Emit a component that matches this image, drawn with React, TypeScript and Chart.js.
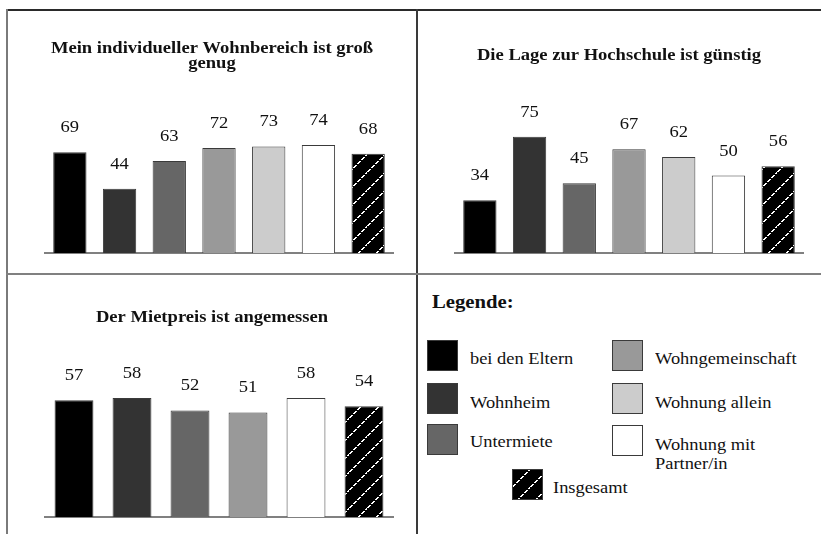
import React, { useEffect, useRef } from "react";
import { Chart, registerables } from "chart.js";

Chart.register(...registerables);

// ---------- data ----------
const categories = [
  "bei den Eltern",
  "Wohnheim",
  "Untermiete",
  "Wohngemeinschaft",
  "Wohnung allein",
  "Wohnung mit Partner/in",
  "Insgesamt",
];
const wohnbereichValues = [69, 44, 63, 72, 73, 74, 68];
const lageValues = [34, 75, 45, 67, 62, 50, 56];
const mietpreisCategories = [
  "bei den Eltern",
  "Wohnheim",
  "Untermiete",
  "Wohngemeinschaft",
  "Wohnung mit Partner/in",
  "Insgesamt",
];
const mietpreisValues = [57, 58, 52, 51, 58, 54];

const titleWohnbereich = ["Mein individueller Wohnbereich ist groß", "genug"];
const titleLage = ["Die Lage zur Hochschule ist günstig"];
const titleMietpreis = ["Der Mietpreis ist angemessen"];

const categoryColors: Record<string, string> = {
  "bei den Eltern": "#000000",
  Wohnheim: "#333333",
  Untermiete: "#666666",
  Wohngemeinschaft: "#999999",
  "Wohnung allein": "#cccccc",
  "Wohnung mit Partner/in": "#ffffff",
};

const FONT = "'Liberation Serif', 'Times New Roman', serif";
const SX = 1.16;

function makePatternCanvas(): HTMLCanvasElement {
  const c = document.createElement("canvas");
  c.width = 18;
  c.height = 18;
  const ctx = c.getContext("2d")!;
  ctx.fillStyle = "#000";
  ctx.fillRect(0, 0, 18, 18);
  ctx.fillStyle = "#fff";
  for (let i = 0; i < 18; i++) {
    if (i % 4 !== 3) ctx.fillRect(i, 17 - i, 2, 1);
  }
  return c;
}

const panelText = {
  id: "panelText",
  afterDraw(chart: any, _args: any, opts: any) {
    const ctx: CanvasRenderingContext2D = chart.ctx;
    ctx.save();
    ctx.fillStyle = "#111";
    ctx.textAlign = "center";
    ctx.textBaseline = "alphabetic";
    ctx.font = `bold 16px ${FONT}`;
    (opts.lines as string[]).forEach((line, i) => {
      ctx.save();
      ctx.translate(chart.width / 2, opts.baselines[i]);
      ctx.scale(SX, 1);
      ctx.fillText(line, 0, 0);
      ctx.restore();
    });
    ctx.font = `16px ${FONT}`;
    const meta = chart.getDatasetMeta(0);
    meta.data.forEach((el: any, i: number) => {
      const v = chart.data.datasets[0].data[i];
      ctx.save();
      ctx.translate(el.x, el.y - 20);
      ctx.scale(SX, 1);
      ctx.fillText(String(v), 0, 0);
      ctx.restore();
    });
    ctx.restore();
  },
};

type PanelProps = {
  labels: string[];
  values: number[];
  title: string[];
  titleBaselines: number[];
  left: number;
  top: number;
  width: number;
  height: number;
  padding: { top: number; bottom: number; left: number; right: number };
};

function BarPanel(p: PanelProps) {
  const ref = useRef<HTMLCanvasElement | null>(null);
  useEffect(() => {
    if (!ref.current) return;
    const ctx = ref.current.getContext("2d")!;
    const pattern = ctx.createPattern(makePatternCanvas(), "repeat")!;
    const colors = p.labels.map((l) => (l === "Insgesamt" ? pattern : categoryColors[l]));
    const chart = new Chart(ref.current, {
      type: "bar",
      data: {
        labels: p.labels,
        datasets: [
          {
            data: p.values,
            backgroundColor: colors as any,
            borderColor: "#3a3a3a",
            borderWidth: 1,
            barPercentage: 0.67,
            categoryPercentage: 1,
          },
        ],
      },
      options: {
        animation: false,
        responsive: false,
        maintainAspectRatio: false,
        layout: { padding: p.padding },
        plugins: {
          legend: { display: false },
          tooltip: { enabled: false },
          title: { display: false },
          panelText: { lines: p.title, baselines: p.titleBaselines },
        } as any,
        scales: {
          x: {
            display: true,
            grid: { display: false, drawTicks: false },
            ticks: { display: false },
            border: { display: true, color: "#808080", width: 2 },
          },
          y: { display: false, min: 0, max: 100 },
        },
      },
      plugins: [panelText as any],
    });
    return () => chart.destroy();
  }, []);
  return (
    <canvas
      ref={ref}
      width={p.width}
      height={p.height}
      style={{ position: "absolute", left: p.left, top: p.top, width: p.width, height: p.height }}
    />
  );
}

function Swatch({ label, left, top }: { label: string; left: number; top: number }) {
  const ref = useRef<HTMLCanvasElement | null>(null);
  useEffect(() => {
    if (!ref.current) return;
    const ctx = ref.current.getContext("2d")!;
    ctx.clearRect(0, 0, 31, 31);
    if (label === "Insgesamt") {
      ctx.fillStyle = ctx.createPattern(makePatternCanvas(), "repeat")!;
    } else {
      ctx.fillStyle = categoryColors[label];
    }
    ctx.fillRect(0, 0, 31, 31);
    ctx.strokeStyle = "#3a3a3a";
    ctx.lineWidth = 1;
    ctx.strokeRect(0.5, 0.5, 30, 30);
  }, []);
  return (
    <canvas
      ref={ref}
      width={31}
      height={31}
      style={{ position: "absolute", left, top, width: 31, height: 31 }}
    />
  );
}

function LegendText({ lines, left, baseline }: { lines: string[]; left: number; baseline: number }) {
  return (
    <div
      style={{
        position: "absolute",
        left,
        top: baseline - 13.4,
        font: `16px ${FONT}`,
        lineHeight: "19.5px",
        color: "#111",
        whiteSpace: "nowrap",
        transform: `scaleX(${1.15})`,
        transformOrigin: "left top",
      }}
    >
      {lines.map((l, i) => (
        <div key={i}>{l}</div>
      ))}
    </div>
  );
}

export default function App() {
  useEffect(() => {
    document.body.style.margin = "0";
    document.body.style.overflow = "hidden";
  }, []);
  return (
    <div style={{ position: "absolute", left: 0, top: 0, width: 821, height: 534, background: "#fff", overflow: "hidden" }}>
      <BarPanel
        labels={categories}
        values={wohnbereichValues}
        title={titleWohnbereich}
        titleBaselines={[43, 58]}
        left={7}
        top={10}
        width={410}
        height={264}
        padding={{ top: 97, bottom: 21, left: 38, right: 24 }}
      />
      <BarPanel
        labels={categories}
        values={lageValues}
        title={titleLage}
        titleBaselines={[50]}
        left={417}
        top={10}
        width={404}
        height={264}
        padding={{ top: 88, bottom: 21, left: 38, right: 18 }}
      />
      <BarPanel
        labels={mietpreisCategories}
        values={mietpreisValues}
        title={titleMietpreis}
        titleBaselines={[48]}
        left={7}
        top={274}
        width={410}
        height={260}
        padding={{ top: 38, bottom: 17, left: 38, right: 24 }}
      />

      {/* frame lines */}
      <div style={{ position: "absolute", left: 6, top: 9, width: 815, height: 2, background: "#2a2a2a" }} />
      <div style={{ position: "absolute", left: 6, top: 9, width: 2, height: 525, background: "#7a7a7a" }} />
      <div style={{ position: "absolute", left: 416, top: 9, width: 2, height: 525, background: "#3a3a3a" }} />
      <div style={{ position: "absolute", left: 6, top: 273, width: 815, height: 2, background: "#808080" }} />

      {/* legend */}
      <div
        style={{
          position: "absolute",
          left: 432,
          top: 308 - 15,
          font: `bold 18px ${FONT}`,
          lineHeight: "18px",
          color: "#111",
          whiteSpace: "nowrap",
          transform: "scaleX(1.15)",
          transformOrigin: "left top",
        }}
      >
        Legende:
      </div>
      <Swatch label="bei den Eltern" left={427} top={340} />
      <LegendText lines={["bei den Eltern"]} left={470} baseline={362} />
      <Swatch label="Wohnheim" left={427} top={383} />
      <LegendText lines={["Wohnheim"]} left={470} baseline={406} />
      <Swatch label="Untermiete" left={427} top={424} />
      <LegendText lines={["Untermiete"]} left={470} baseline={445} />
      <Swatch label="Wohngemeinschaft" left={612} top={340} />
      <LegendText lines={["Wohngemeinschaft"]} left={655} baseline={362} />
      <Swatch label="Wohnung allein" left={612} top={383} />
      <LegendText lines={["Wohnung allein"]} left={655} baseline={406} />
      <Swatch label="Wohnung mit Partner/in" left={612} top={425} />
      <LegendText lines={["Wohnung mit", "Partner/in"]} left={655} baseline={448} />
      <Swatch label="Insgesamt" left={512} top={469} />
      <LegendText lines={["Insgesamt"]} left={553} baseline={491} />
    </div>
  );
}
